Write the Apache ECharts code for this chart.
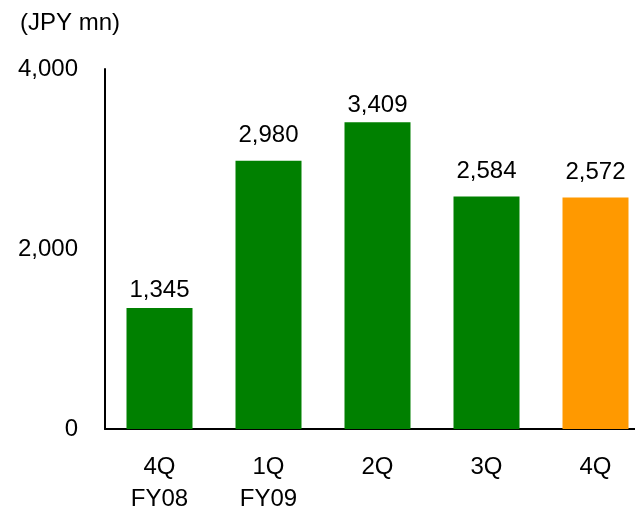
<!DOCTYPE html>
<html>
<head>
<meta charset="utf-8">
<script src="https://cdn.jsdelivr.net/npm/echarts@6/dist/echarts.min.js"></script>
<style>
  html, body { margin: 0; padding: 0; background: #fff; }
  #chart { width: 635px; height: 507px; }
</style>
</head>
<body>
<div id="chart"></div>
<script>
// Quarterly figures, JPY millions
const categories = ['4Q\nFY08', '1Q\nFY09', '2Q', '3Q', '4Q'];
const values = [1345, 2980, 3409, 2584, 2572];
const barColors = ['#008000', '#008000', '#008000', '#008000', '#FF9900'];
const yTicks = [0, 2000, 4000];

// gap between each value label and the top of its bar
const labelGaps = [6, 13, 5, 13, 13];

const font = 'Liberation Sans, Arial, sans-serif';
const chart = echarts.init(document.getElementById('chart'));

chart.setOption({
  animation: false,
  title: {
    text: '(JPY mn)',
    left: 15,
    top: 6,
    textStyle: { fontFamily: font, fontSize: 24, fontWeight: 'normal', color: '#000' }
  },
  grid: {
    left: 105, right: -15, top: 69, bottom: 78,
    containLabel: false,
    outerBoundsMode: 'none'
  },
  xAxis: {
    type: 'category',
    data: categories,
    axisLine: { lineStyle: { color: '#000', width: 2 } },
    axisTick: { show: false },
    axisLabel: {
      margin: 22,
      fontFamily: font,
      fontSize: 24,
      color: '#000',
      lineHeight: 32
    }
  },
  yAxis: {
    type: 'value',
    min: yTicks[0],
    max: yTicks[yTicks.length - 1],
    interval: 2000,
    splitLine: { show: false },
    axisLine: { show: true, lineStyle: { color: '#000', width: 2 } },
    axisTick: { show: false },
    axisLabel: {
      margin: 27,
      fontFamily: font,
      fontSize: 24,
      color: '#000',
      formatter: v => v.toLocaleString('en-US')
    }
  },
  series: [{
    type: 'bar',
    barWidth: 66,
    data: values.map((v, i) => ({
      value: v,
      itemStyle: { color: barColors[i] },
      label: { distance: labelGaps[i] }
    })),
    label: {
      show: true,
      position: 'top',
      fontFamily: font,
      fontSize: 24,
      color: '#000',
      formatter: p => p.value.toLocaleString('en-US')
    }
  }]
});
</script>
</body>
</html>
